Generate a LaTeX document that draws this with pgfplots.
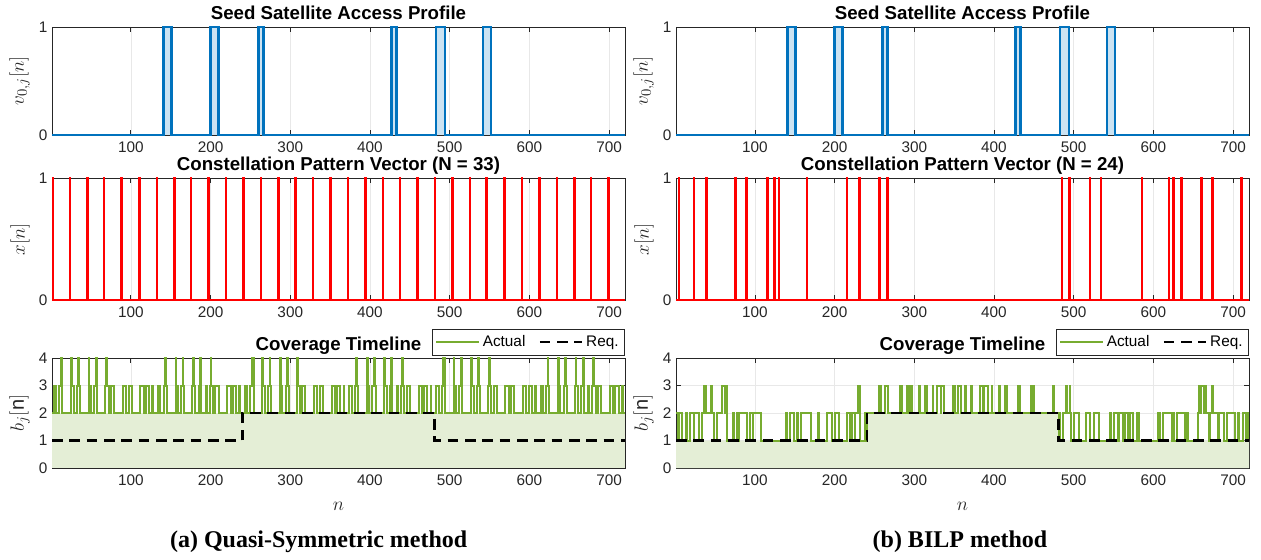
\documentclass[border=0pt]{standalone}
\usepackage{fontspec}
\setmainfont{Liberation Sans}
\newfontfamily\capfont{Liberation Serif}
\usepackage{pgfplots}
\pgfplotsset{compat=1.18}
\definecolor{mblue}{RGB}{0,114,189}
\definecolor{mgreen}{RGB}{119,172,48}
\definecolor{axc}{RGB}{38,38,38}
\pgfplotsset{
 base/.style={
  scale only axis, anchor=north west,
  xmin=1, xmax=720, xtick={100,200,...,700},
  grid=major, major grid style={gray!18, line width=0.5pt},
  axis line style={axc, line width=0.6pt},
  tick style={axc, line width=0.6pt}, tick align=inside, major tick length=3.5pt,
  ticklabel style={font=\fontsize{11.5}{12}\selectfont, text=axc},
  xticklabel style={yshift=-1.5pt},
  /pgf/number format/assume math mode=true,
  title style={font=\bfseries\fontsize{14}{15}\selectfont, at={(0.5,1)}, anchor=south, yshift=-6.5pt},
  ylabel style={font=\fontsize{15}{16}\selectfont, text=axc},
  xlabel style={font=\fontsize{15}{16}\selectfont, text=axc, yshift=-5.5pt},
  clip=false,
 },
 topp/.style={base, width=429.75pt, height=81pt, ymin=0, ymax=1, ytick={0,1},
  title={Seed Satellite Access Profile}, ylabel={$v_{0,j}[n]$},
  title style={yshift=2.5pt}},
 midp/.style={base, width=429.75pt, height=91.5pt, ymin=0, ymax=1, ytick={0,1},
  ylabel={$x[n]$}},
 botp/.style={base, width=429.75pt, height=82.5pt, ymin=0, ymax=4, ytick={0,1,2,3,4},
  title={Coverage Timeline}, ylabel={$b_j[\mathrm{n}]$}, xlabel={$n$},
  legend columns=2,
  legend style={at={(1,1)}, anchor=south east, yshift=2pt, draw=axc, line width=0.6pt,
   font=\fontsize{11.5}{12}\selectfont, inner sep=2.5pt,
   /tikz/every even column/.append style={column sep=8pt}},
  legend image code/.code={\draw[#1] (0pt,0pt) -- (32pt,0pt);}},
}
\begin{document}
\begin{tikzpicture}
\useasboundingbox (0,0) rectangle (945.75pt,-420pt);
% ---------------- left column ----------------
\begin{axis}[topp, at={(39pt,-20.25pt)}]
\addplot[const plot, draw=mblue, line width=2pt, fill=mblue!20] coordinates {(1,0)(141,1)(151,0)(200,1)(210,0)(260,1)(266,0)(427,1)(433,0)(483,1)(494,0)(542,1)(552,0)(720,0)};
\end{axis}
\begin{axis}[midp, at={(39pt,-133.5pt)}, title={Constellation Pattern Vector (N = 33)}]
\addplot[const plot, draw=red, line width=1.3pt] coordinates {(1,1)(2,0)(23,1)(24,0)(45,1)(46,0)(66,1)(67,0)(88,1)(89,0)(110,1)(111,0)(132,1)(133,0)(154,1)(155,0)(175,1)(176,0)(197,1)(198,0)(219,1)(220,0)(241,1)(242,0)(263,1)(264,0)(285,1)(286,0)(306,1)(307,0)(328,1)(329,0)(350,1)(351,0)(372,1)(373,0)(394,1)(395,0)(416,1)(417,0)(437,1)(438,0)(459,1)(460,0)(481,1)(482,0)(503,1)(504,0)(525,1)(526,0)(546,1)(547,0)(568,1)(569,0)(590,1)(591,0)(612,1)(613,0)(634,1)(635,0)(656,1)(657,0)(677,1)(678,0)(699,1)(700,0)(720,0)};
\end{axis}
\begin{axis}[botp, at={(39pt,-268.5pt)}]
\addplot[draw=none, fill=mgreen!20, forget plot] coordinates {(1,2)(720,2)} \closedcycle;
\addplot[const plot, draw=mgreen, line width=1.5pt] coordinates {
(1,2)(3,3)(6,2)(10,3)(12,4)(14,2)(25,4)(26,3)(28,2)(32,3)(34,4)(35,3)(36,2)(47,4)(48,3)(50,2)(54,3)(56,4)(57,3)(58,2)(68,3)(69,4)(70,3)(72,2)(75,3)(79,2)(90,3)(94,2)(97,3)(101,2)(112,3)(116,2)(119,3)(123,2)(127,3)(128,2)(134,3)(137,2)(141,3)(143,4)(144,3)(145,2)(156,4)(157,3)(159,2)(163,3)(165,4)(166,3)(167,2)(177,3)(178,4)(179,3)(181,2)(185,3)(187,4)(188,2)(194,3)(195,2)(199,3)(200,4)(201,3)(203,2)(206,3)(210,2)(221,3)(225,2)(228,3)(232,2)(236,3)(237,2)
(240,2)(243,3)(246,2)(250,3)(252,4)(254,2)(265,4)(266,3)(268,2)(272,3)(274,4)(275,3)(276,2)(287,4)(288,3)(290,2)(294,3)(296,4)(297,3)(298,2)(308,3)(309,4)(310,3)(312,2)(315,3)(319,2)(330,3)(334,2)(337,3)(341,2)(352,3)(356,2)(359,3)(363,2)(367,3)(368,2)(374,3)(377,2)(381,3)(383,4)(384,3)(385,2)(396,4)(397,3)(399,2)(403,3)(405,4)(406,3)(407,2)(417,3)(418,4)(419,3)(421,2)(425,3)(427,4)(428,2)(434,3)(435,2)(439,3)(440,4)(441,3)(443,2)(446,3)(450,2)(461,3)(465,2)(468,3)(472,2)(476,3)(477,2)
(480,2)(483,3)(486,2)(490,3)(492,4)(494,2)(505,4)(506,3)(508,2)(512,3)(514,4)(515,3)(516,2)(527,4)(528,3)(530,2)(534,3)(536,4)(537,3)(538,2)(548,3)(549,4)(550,3)(552,2)(555,3)(559,2)(570,3)(574,2)(577,3)(581,2)(592,3)(596,2)(599,3)(603,2)(607,3)(608,2)(614,3)(617,2)(621,3)(623,4)(624,3)(625,2)(636,4)(637,3)(639,2)(643,3)(645,4)(646,3)(647,2)(657,3)(658,4)(659,3)(661,2)(665,3)(667,4)(668,2)(674,3)(675,2)(679,3)(680,4)(681,3)(683,2)(686,3)(690,2)(701,3)(705,2)(708,3)(712,2)(716,3)(717,2)(720,2)};
\addlegendentry{Actual}
\addplot[const plot, draw=black, line width=1.6pt, dash pattern=on 8pt off 5pt] coordinates {(1,1)(240,2)(481,1)(720,1)};
\addlegendentry{Req.}
\end{axis}
% ---------------- right column ----------------
\begin{axis}[topp, at={(507pt,-20.25pt)}]
\addplot[const plot, draw=mblue, line width=2pt, fill=mblue!20] coordinates {(1,0)(141,1)(151,0)(200,1)(210,0)(260,1)(266,0)(427,1)(433,0)(483,1)(494,0)(542,1)(552,0)(720,0)};
\end{axis}
\begin{axis}[midp, at={(507pt,-133.5pt)}, title={Constellation Pattern Vector (N = 24)}]
\addplot[const plot, draw=red, line width=1.3pt] coordinates {(1,0)(4,1)(5,0)(23,1)(24,0)(39,1)(40,0)(75,1)(76,0)(89,1)(90,0)(115,1)(116,0)(124,1)(125,0)(130,1)(131,0)(165,1)(166,0)(215,1)(216,0)(231,1)(232,0)(256,1)(257,0)(266,1)(267,0)(485,1)(486,0)(494,1)(495,0)(520,1)(521,0)(534,1)(535,0)(585,1)(586,0)(619,1)(620,0)(625,1)(626,0)(635,1)(636,0)(660,1)(661,0)(674,1)(675,0)(710,1)(711,0)(720,0)};
\end{axis}
\begin{axis}[botp, at={(507pt,-268.5pt)}]
\addplot[const plot, draw=none, fill=mgreen!20, forget plot] coordinates {(1,1)(241,2)(481,1)(720,1)} \closedcycle;
\addplot[const plot, draw=mgreen, line width=1.5pt] coordinates {
(1,2)(4,1)(5,2)(9,1)(13,2)(15,1)(18,2)(23,1)(24,2)(30,1)(33,2)(36,3)(39,2)(45,3)(46,2)(49,1)(52,2)(59,3)(62,2)(64,3)(65,1)(73,2)(74,1)(77,2)(79,1)(80,2)(90,1)(94,2)(97,1)(98,2)(108,1)(139,2)(140,1)(144,2)(149,1)(153,2)(154,1)(158,2)(170,1)(179,2)(180,1)(191,2)(197,1)(200,2)(206,1)(215,2)(219,1)(222,2)(225,1)(226,2)(229,3)(232,1)(238,2)(239,1)
(241,2)(256,3)(258,2)(263,3)(267,2)(282,3)(284,2)(291,3)(293,2)(296,3)(297,2)(306,3)(307,2)(314,3)(316,2)(323,3)(324,2)(329,3)(333,2)(334,3)(337,2)(348,3)(351,2)(355,3)(358,2)(364,3)(365,2)(371,3)(372,2)(383,3)(386,2)(387,3)(392,2)(397,3)(398,2)(406,3)(408,2)(414,3)(416,2)(430,3)(433,2)(446,3)(447,2)(449,3)(450,2)(474,3)(475,2)
(481,1)(482,2)(483,1)(486,2)(490,3)(491,2)(495,3)(496,2)(497,1)(501,2)(507,1)(515,2)(521,1)(525,2)(532,1)(545,2)(547,1)(550,2)(555,1)(557,2)(562,1)(564,2)(568,1)(571,2)(574,1)(580,2)(582,1)(606,2)(608,1)(612,2)(623,1)(625,2)(626,1)(630,2)(640,1)(641,2)(644,1)(656,2)(657,3)(658,2)(660,3)(663,2)(665,3)(666,2)(670,1)(671,2)(674,3)(675,2)(681,1)(682,2)(688,1)(692,2)(703,1)(706,2)(708,1)(713,2)(716,1)(719,2)(720,2)};
\addlegendentry{Actual}
\addplot[const plot, draw=black, line width=1.6pt, dash pattern=on 8pt off 5pt] coordinates {(1,1)(241,2)(481,1)(720,1)};
\addlegendentry{Req.}
\end{axis}
% captions
\node[font=\capfont\bfseries\fontsize{18}{20}\selectfont] at (239pt,-406.5pt) {(a) Quasi-Symmetric method};
\node[font=\capfont\bfseries\fontsize{18}{20}\selectfont] at (720pt,-406.5pt) {(b) BILP method};
\end{tikzpicture}
\end{document}
